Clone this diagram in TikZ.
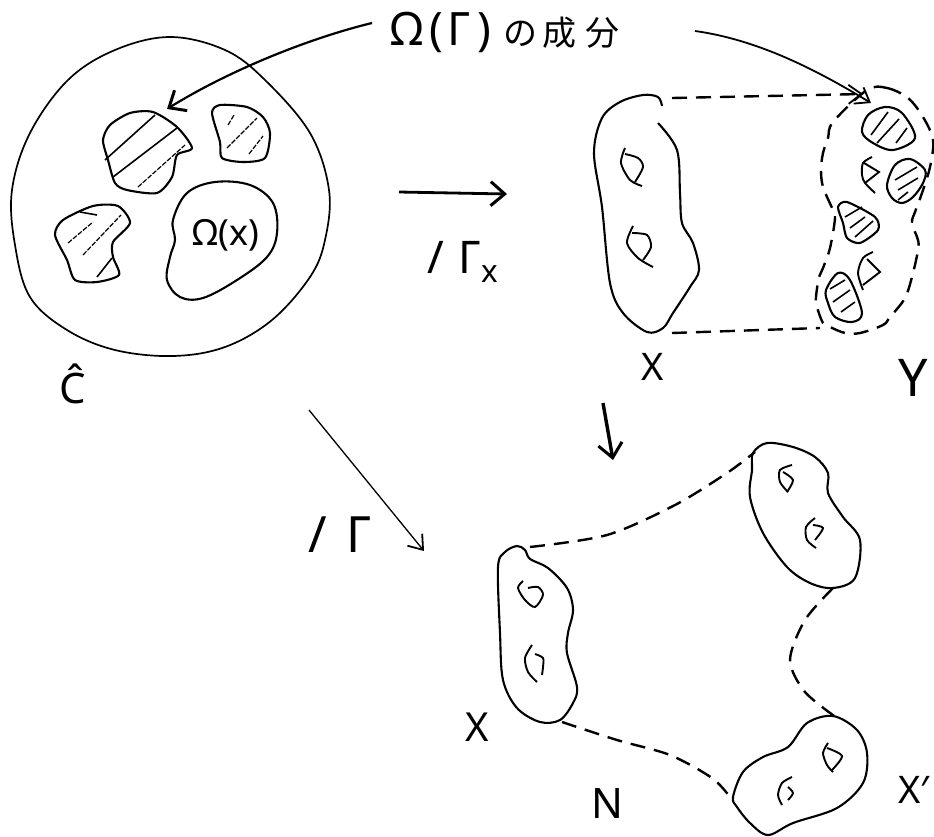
\documentclass[tikz,border=0pt]{standalone}
\usepackage{fontspec}
\setmainfont{Noto Sans}
\newfontfamily\cjk{Noto Sans CJK JP}
\usetikzlibrary{arrows.meta,positioning}
\tikzset{
  blob/.style={line width=2.1pt, line join=round},
  ablob/.style={line width=1.7pt},
  hatch/.style={line width=1.6pt},
  fainthatch/.style={line width=1.2pt, dash pattern=on 5pt off 1.5pt},
  gapline/.style={line width=2.4pt, dash pattern=on 15pt off 9pt},
  curl/.style={line width=1.9pt},
  pen/.style={font=\fontsize{#1}{#1}\selectfont, inner sep=0pt},
  barb/.style={-{Straight Barb[length=13pt,width=19pt,line width=1.8pt]}},
  barbheavy/.style={-{Straight Barb[length=14pt,width=24pt,line width=3pt]}}
}
\begin{document}
\begin{tikzpicture}[x=1pt, y=-1pt]
\useasboundingbox (0,0) rectangle (934,836);
\fill[white] (0,0) rectangle (934,836);
% labels
\node[pen=46] (title) at (505,32) {Ω\hspace{6pt}(\hspace{4pt}Γ\hspace{8pt})\hspace{12pt}{\cjk\fontsize{34}{34}\selectfont の\hspace{5pt}成\hspace{9pt}分}};
\node[pen=36] (omegax) at (226,235) {Ω(x)};
\node[pen=42] (chat) at (73,384) {Ĉ};
\node[pen=45] (quotx) at (463,262) {/\hspace{14pt}Γ\textsubscript{x}};
\node[pen=50] (quot) at (340,535) {/\hspace{20pt}Γ};
\node[pen=38] (labx) at (653,367) {X};
\node[pen=52] (laby) at (913,378) {Y};
\node[pen=40] (labxb) at (477,727) {X};
\node[pen=42] (labn) at (607,803) {N};
\node[pen=38] (labxp) at (914,790) {X′};
% arrow ends
\coordinate (taila) at (372,23);
\coordinate (tipa) at (167,109);
\coordinate (tailb) at (695,31);
\coordinate (tipy) at (871,103);
\coordinate (mapl) at (399,192);
\coordinate (mapr) at (507,194);
\coordinate (diaga) at (309,410);
\coordinate (diagb) at (424,551);
\coordinate (downa) at (603,403);
\coordinate (downb) at (613,460);
\coordinate (gapa) at (672,98);
\coordinate (gapb) at (863,94);
% disc
\draw[ablob] plot[smooth cycle, tension=0.6] coordinates {
  (12,190) (30,133) (68,80) (115,50) (170,37) (225,50) (265,80) (310,133) (329,190)
  (325,240) (310,277) (272,320) (225,347) (173,356) (115,350) (67,330) (30,297) (15,245)};
\draw[blob] plot[smooth cycle, tension=0.45] coordinates {
  (103,140) (110,125) (130,113) (153,112) (177,127) (192,148) (177,155) (172,177)
  (157,193) (127,190) (115,183) (108,160)};
\draw[blob] plot[smooth cycle, tension=0.45] coordinates {
  (212,113) (220,105) (247,107) (263,117) (270,133) (265,158) (243,162) (222,158) (220,142)};
\draw[blob] plot[smooth cycle, tension=0.45] coordinates {
  (55,235) (63,220) (93,206) (118,206) (130,223) (113,242) (113,257) (119,275)
  (97,282) (75,280) (67,260)};
\draw[blob] plot[smooth cycle, tension=0.6] coordinates {
  (173,220) (187,193) (215,182) (250,185) (273,203) (277,233) (267,257) (237,280)
  (203,298) (180,297) (167,280) (170,257) (175,240)};
% hatching, disc
\foreach \hs/\he in {{105,160}/{155,115},{113,177}/{177,128},{97,277}/{112,258},{80,212}/{97,215}}
  \draw[hatch] (\hs) -- (\he);
\foreach \hs/\he in {{138,187}/{185,145},{227,148}/{257,118},{228,125}/{234,115},{249,154}/{263,136},{68,243}/{93,222},{83,255}/{121,215}}
  \draw[fainthatch] (\hs) -- (\he);
% top pair, X side
\draw[blob] plot[smooth, tension=0.55] coordinates {
  (662,106) (658,97) (643,95) (620,102) (602,118) (594,153) (602,207) (610,283) (623,313)
  (647,332) (663,328) (673,313) (690,287) (699,270) (693,243) (682,223) (680,193) (677,150) (658,123)};
\draw[curl] plot[smooth] coordinates {(625,148) (621,163) (630,180) (642,186)};
\draw[curl] plot[smooth] coordinates {(625,154) (638,158) (643,167) (635,182)};
\draw[curl] plot[smooth] coordinates {(633,226) (627,243) (638,258) (653,267)};
\draw[curl] plot[smooth] coordinates {(632,233) (647,235) (651,247) (643,260)};
% top pair, Y side
\draw[gapline] plot[smooth cycle, tension=0.55] coordinates {
  (867,90) (887,88) (908,98) (923,117) (933,140) (930,167) (922,193) (915,212) (912,223)
  (918,240) (918,250) (913,273) (905,298) (890,317) (883,325) (860,333) (845,333) (830,327)
  (823,323) (817,307) (816,297) (819,277) (823,268) (830,248) (835,218) (832,208) (823,187)
  (821,170) (823,153) (828,138) (833,122)};
\draw[gapline, barb] (gapa) -- (gapb);
\draw[gapline] (672,333) -- (820,328);
\draw[blob] plot[smooth cycle, tension=0.55] coordinates {(862,132) (868,115) (885,107) (902,113) (915,138) (893,150) (873,143)};
\draw[blob] plot[smooth cycle, tension=0.55] coordinates {(887,185) (895,165) (910,159) (925,170) (923,183) (913,197) (902,203) (892,198)};
\draw[blob] plot[smooth cycle, tension=0.45] coordinates {(838,207) (847,202) (875,217) (878,230) (860,243) (847,238) (843,223)};
\draw[blob] plot[smooth cycle, tension=0.55] coordinates {(826,290) (838,273) (850,280) (862,313) (852,322) (835,317) (828,303)};
\foreach \hs/\he in {{871,135}/{888,112},{877,143}/{899,119},{896,143}/{907,128},{895,180}/{917,167},{898,190}/{918,178},{898,200}/{908,192},{845,217}/{862,207},{850,228}/{865,217},{855,237}/{873,221},{830,289}/{845,280},{833,302}/{850,290},{841,312}/{855,302}}
  \draw[hatch] (\hs) -- (\he);
\draw[curl] plot[smooth] coordinates {(872,157) (863,163) (862,175) (865,183) (875,193)};
\draw[curl] (864,163) -- (879,172) -- (865,183);
\draw[curl] plot[smooth] coordinates {(873,252) (863,258) (858,273) (863,290)};
\draw[curl] (867,259) -- (880,272) -- (863,285);
% lower surface
\draw[blob] plot[smooth cycle, tension=0.55] coordinates {
  (498,567) (505,552) (517,546) (525,550) (530,559) (548,568) (567,588) (573,610) (568,633)
  (567,653) (577,687) (573,703) (560,720) (540,722) (517,708) (503,680) (500,633)};
\draw[blob] plot[smooth cycle, tension=0.55] coordinates {
  (753,453) (767,443) (793,447) (815,457) (828,473) (828,493) (843,517) (860,540) (855,578)
  (833,588) (810,583) (787,567) (763,533) (750,497) (752,470)};
\draw[blob] plot[smooth cycle, tension=0.55] coordinates {
  (733,797) (743,772) (763,757) (788,747) (807,723) (833,716) (857,730) (867,753) (863,783)
  (837,808) (793,823) (768,835) (750,823) (737,807)};
\draw[gapline] plot[smooth] coordinates {(530,547) (607,535) (675,505) (727,473) (755,452)};
\draw[gapline] plot[smooth] coordinates {(562,722) (617,740) (670,755) (712,778) (730,797)};
\draw[gapline] plot[smooth] coordinates {(833,588) (805,620) (790,660) (805,692) (837,718)};
\draw[curl] plot[smooth] coordinates {(523,581) (518,588) (525,600) (535,607) (543,595) (538,587) (528,588)};
\draw[curl] plot[smooth] coordinates {(532,645) (525,658) (528,672) (537,682)};
\draw[curl] plot[smooth] coordinates {(535,654) (543,658) (543,667) (542,675)};
\draw[curl] plot[smooth] coordinates {(792,465) (780,470) (780,482) (788,492)};
\draw[curl] plot[smooth] coordinates {(783,472) (793,480) (787,492)};
\draw[curl] plot[smooth] coordinates {(815,518) (806,527) (807,540) (816,548)};
\draw[curl] plot[smooth] coordinates {(813,525) (823,528) (815,540)};
\draw[curl] plot[smooth] coordinates {(828,743) (823,753) (827,765) (833,772)};
\draw[curl] plot[smooth] coordinates {(827,748) (842,756) (832,770)};
\draw[curl] plot[smooth] coordinates {(792,777) (782,783) (778,795) (782,805)};
\draw[curl] plot[smooth] coordinates {(788,787) (793,793) (788,800)};
% arrows
\draw[barbheavy, line width=2.2pt] (taila) .. controls (310,38) and (230,70) .. (tipa);
\draw[barb, line width=1.8pt] (tailb) .. controls (760,40) and (820,72) .. (tipy);
\draw[barbheavy, line width=2.8pt] (mapl) -- (mapr);
\draw[barb, line width=1.3pt] (diaga) -- (diagb);
\draw[barbheavy, line width=3.4pt] (downa) -- (downb);
\end{tikzpicture}
\end{document}
